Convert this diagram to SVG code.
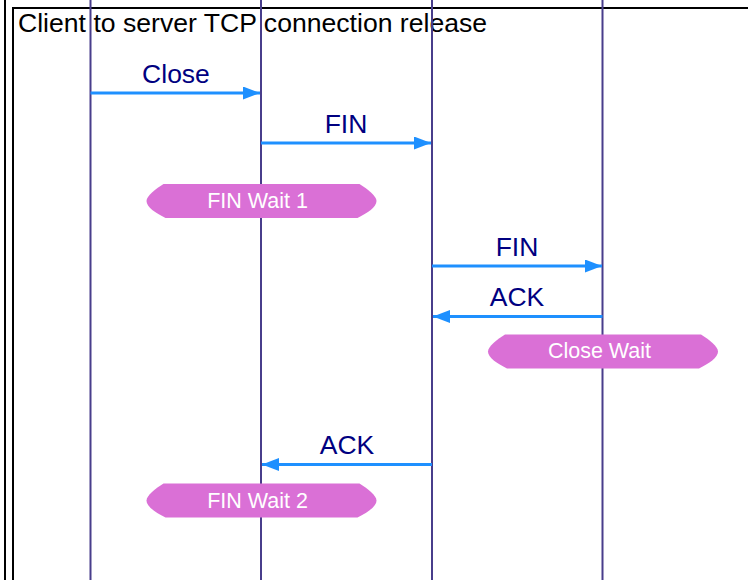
<svg xmlns="http://www.w3.org/2000/svg" width="748" height="580" viewBox="0 0 748 580">
<style>
.frame{fill:none;stroke:#000;stroke-width:2}
.life{stroke:#483D8B;stroke-width:2}
.msg{stroke:#1E90FF;stroke-width:3;fill:none}
.lbl{font-family:"Liberation Sans",Arial,sans-serif;font-size:26.5px;fill:#000080;text-anchor:middle}
.title{font-family:"Liberation Sans",Arial,sans-serif;font-size:26.6px;fill:#000}
.state{fill:#DA70D6}
.stxt{font-family:"Liberation Sans",Arial,sans-serif;font-size:21.5px;fill:#fff;text-anchor:middle}
</style>
<defs>
<marker id="ah" markerWidth="17" markerHeight="13" refX="17" refY="6.5" orient="auto" markerUnits="userSpaceOnUse">
<path d="M0,0 L17,6.5 L0,13 Z" fill="#1E90FF"/>
</marker>
<path id="stateShape" d="M-98,-17 L98,-17 C106,-12 115,-5 115,0 C115,6 106,12 96,17 L-96,17 C-106,12 -115,6 -115,0 C-115,-5 -106,-12 -98,-17 Z"/>
</defs>
<rect width="748" height="580" fill="#fff"/>
<g id="frame">
<line x1="5" y1="0" x2="5" y2="580" class="frame"/>
<path d="M13,580 L13,8 L748,8" class="frame"/>
<text x="18" y="32" class="title">Client to server TCP connection release</text>
</g>
<g id="lifelines">
<line x1="90.5" y1="0" x2="90.5" y2="580" class="life"/>
<line x1="261" y1="0" x2="261" y2="580" class="life"/>
<line x1="432" y1="0" x2="432" y2="580" class="life"/>
<line x1="602.5" y1="0" x2="602.5" y2="580" class="life"/>
</g>
<g id="connectors">
<line x1="90.5" y1="93" x2="260" y2="93" class="msg" marker-end="url(#ah)"/>
<text x="176" y="83" class="lbl">Close</text>
<line x1="261" y1="143" x2="431" y2="143" class="msg" marker-end="url(#ah)"/>
<text x="346" y="133" class="lbl">FIN</text>
<line x1="432" y1="266" x2="602" y2="266" class="msg" marker-end="url(#ah)"/>
<text x="517" y="256" class="lbl">FIN</text>
<line x1="602.5" y1="316.5" x2="433" y2="316.5" class="msg" marker-end="url(#ah)"/>
<text x="517" y="306" class="lbl">ACK</text>
<line x1="432" y1="464.5" x2="262" y2="464.5" class="msg" marker-end="url(#ah)"/>
<text x="347" y="454" class="lbl">ACK</text>
</g>
<g id="finwait1">
<use href="#stateShape" x="261.5" y="201" class="state"/>
<text x="257.5" y="207.5" class="stxt">FIN Wait 1</text>
</g>
<g id="closewait">
<use href="#stateShape" x="603" y="351.5" class="state"/>
<text x="599.5" y="358" class="stxt">Close Wait</text>
</g>
<g id="finwait2">
<use href="#stateShape" x="261.5" y="500.5" class="state"/>
<text x="257.5" y="507.5" class="stxt">FIN Wait 2</text>
</g>
</svg>
